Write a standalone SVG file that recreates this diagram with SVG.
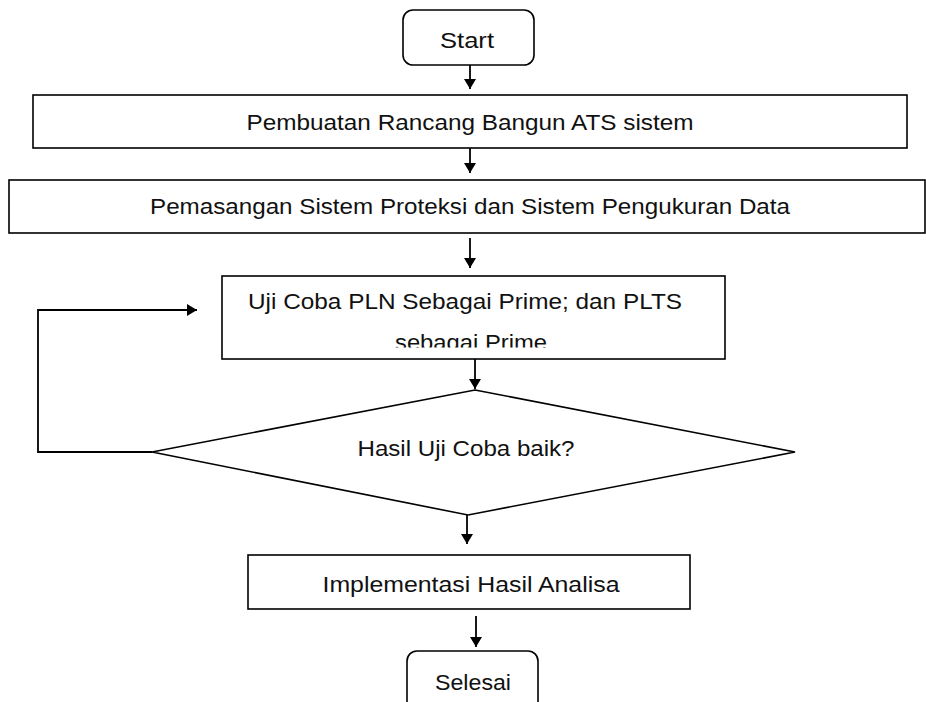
<svg xmlns="http://www.w3.org/2000/svg" width="926" height="702" viewBox="0 0 926 702">
<style>
.box{fill:#fff;stroke:#000;stroke-width:1.6}
.t{font-family:"Liberation Sans",Arial,sans-serif;font-size:22px;fill:#111;text-anchor:middle}
.c{fill:none;stroke:#000;stroke-width:1.8}
</style>
<defs>
<marker id="ah" viewBox="0 0 10 12" refX="10" refY="6" markerWidth="10" markerHeight="12" markerUnits="userSpaceOnUse" orient="auto">
<path d="M0,0 L10,6 L0,12 Z" fill="#000"/>
</marker>
<clipPath id="clipUji"><rect x="222" y="276" width="503" height="71.5"/></clipPath>
</defs>
<rect width="926" height="702" fill="#fff"/>
<g id="start">
<rect class="box" x="403" y="10" width="131" height="55" rx="10"/>
<text class="t" x="467" y="48" textLength="54" lengthAdjust="spacingAndGlyphs">Start</text>
</g>
<g id="pembuatan">
<rect class="box" x="33" y="95" width="874" height="53"/>
<text class="t" x="470" y="130" textLength="447" lengthAdjust="spacingAndGlyphs">Pembuatan Rancang Bangun ATS sistem</text>
</g>
<g id="pemasangan">
<rect class="box" x="9" y="180" width="916" height="53"/>
<text class="t" x="470" y="214" textLength="640" lengthAdjust="spacingAndGlyphs">Pemasangan Sistem Proteksi dan Sistem Pengukuran Data</text>
</g>
<g id="ujicoba">
<rect class="box" x="222" y="276" width="503" height="83"/>
<text class="t" x="465" y="309" textLength="434" lengthAdjust="spacingAndGlyphs">Uji Coba PLN Sebagai Prime; dan PLTS</text>
<text class="t" x="471" y="350" textLength="152" lengthAdjust="spacingAndGlyphs" clip-path="url(#clipUji)">sebagai Prime</text>
</g>
<g id="keputusan">
<polygon class="box" points="475,390 795,452 468,515 152,452" stroke-width="2"/>
<text class="t" x="466" y="456" textLength="217" lengthAdjust="spacingAndGlyphs">Hasil Uji Coba baik?</text>
</g>
<g id="implementasi">
<rect class="box" x="248" y="555" width="442" height="54"/>
<text class="t" x="471" y="592" textLength="297" lengthAdjust="spacingAndGlyphs">Implementasi Hasil Analisa</text>
</g>
<g id="selesai">
<rect class="box" x="407" y="651" width="131" height="70" rx="10"/>
<text class="t" x="473" y="690" textLength="76" lengthAdjust="spacingAndGlyphs">Selesai</text>
</g>
<g id="connectors">
<line class="c" x1="470" y1="65" x2="470" y2="89" marker-end="url(#ah)"/>
<line class="c" x1="470" y1="148" x2="470" y2="173" marker-end="url(#ah)"/>
<line class="c" x1="470" y1="238" x2="470" y2="268" marker-end="url(#ah)"/>
<line class="c" x1="475" y1="359" x2="475" y2="389" marker-end="url(#ah)"/>
<line class="c" x1="467" y1="515" x2="467" y2="544" marker-end="url(#ah)"/>
<line class="c" x1="476" y1="616" x2="476" y2="647" marker-end="url(#ah)"/>
<polyline class="c" points="152,452 38,452 38,310 197,310" marker-end="url(#ah)"/>
</g>
</svg>
